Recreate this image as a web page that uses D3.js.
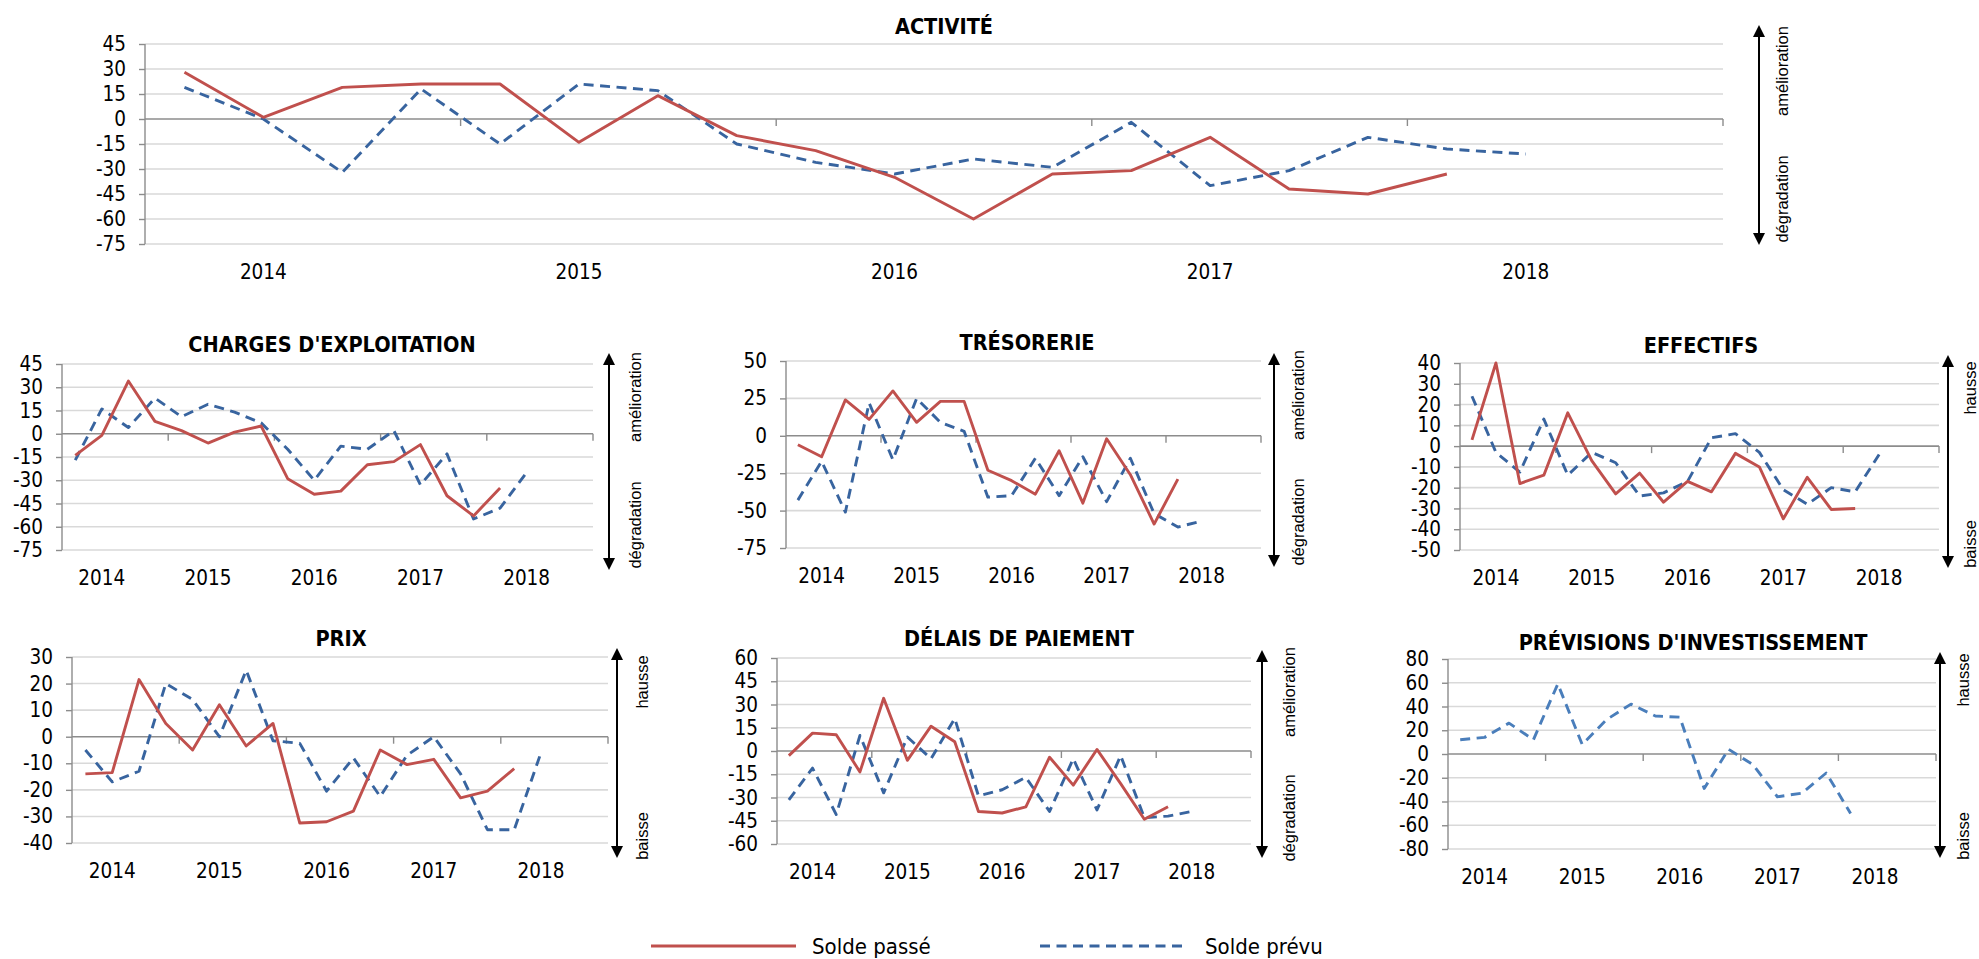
<!DOCTYPE html>
<html>
<head>
<meta charset="utf-8">
<script src="https://cdn.jsdelivr.net/npm/d3@7"></script>
<style>
  body { margin: 0; background: #fff; }
  svg { display: block; }
</style>
</head>
<body>
<svg id="chart" width="1979" height="959"></svg>
<script>
// Quarterly categories (Q4 2013 to Q3 2018); the year is shown under each first quarter
const quarters = ["2013T4","2014T1","2014T2","2014T3","2014T4","2015T1","2015T2","2015T3","2015T4",
  "2016T1","2016T2","2016T3","2016T4","2017T1","2017T2","2017T3","2017T4","2018T1","2018T2","2018T3"];
const yearLabels = ["2014","2015","2016","2017","2018"];
const yearQuarters = ["2014T1","2015T1","2016T1","2017T1","2018T1"];
const boundaryQuarters = ["2014T4","2015T4","2016T4","2017T4"];

// Balances of opinion: "Solde passé" (past) and "Solde prévu" (forecast)
const activitePasse = [28, 1, 19, 21, 21, -14, 14, -10, -19, -35, -60, -33, -31, -11, -42, -45, -33];
const activitePrevu = [19, 0, -32, 18, -15, 21, 17, -15, -26, -33, -24, -29, -2, -40, -31, -11, -18, -21];

const chargesPasse = [-14, -1, 34, 8, 2, -6, 1, 5, -29, -39, -37, -20, -18, -7, -40, -53, -35];
const chargesPrevu = [-17, 16, 4, 23, 11, 19, 14, 7, -10, -30, -8, -10, 2, -33, -13, -55, -48, -25];

const tresoreriePasse = [-6, -14, 24, 11, 30, 9, 23, 23, -23, -30, -39, -10, -45, -2, -26, -59, -29];
const tresoreriePrevu = [-43, -17, -51, 22, -16, 25, 9, 3, -41, -40, -15, -40, -14, -44, -15, -52, -61, -57];

const effectifsPasse = [3, 40, -18, -14, 16, -7, -23, -13, -27, -17, -22, -3.5, -10, -35, -15, -30.5, -30];
const effectifsPrevu = [24, -3, -12.5, 13, -14, -3, -8, -24, -22.5, -17, 4, 6, -3, -21, -28, -20, -22, -4];

const prixPasse = [-14, -13.5, 21.5, 5, -5, 12, -3.5, 5, -32.5, -32, -28, -5, -10.5, -8.5, -23, -20.5, -12];
const prixPrevu = [-5, -17, -13, 20, 14, 0, 25, -1.5, -2.5, -20.5, -8, -22.5, -7, 0, -14, -35, -35, -6];

const delaisPasse = [-3, 11.5, 10.5, -13.5, 34, -6, 16, 6, -39, -40, -36, -4, -22, 1, -21, -44, -36];
const delaisPrevu = [-31.5, -11, -41, 10, -27, 9, -5, 21, -29, -25, -17, -39, -5, -38, -3, -43, -42, -39];

const investissementPrevu = [12, 14, 26, 12, 59, 8, 29, 42, 32, 31, -29, 4, -9, -36, -33, -16, -50];

const seriesNames = ["Solde passé", "Solde prévu"];

const COLOR_PASSE = "#C0504D";
const COLOR_PREVU = "#38649F";

const panels = [
  { title: "ACTIVITÉ", passe: activitePasse, prevu: activitePrevu, domain: [-75, 45], step: 15,
    left: 145, right: 1723, top: 44, bottom: 244, titleX: 944, titleY: 34,
    arrowX: 1759, arrowTop: 25, arrowBottom: 245, up: "amélioration", down: "dégradation",
    sideX: 1782, upY: 71, downY: 199 },
  { title: "CHARGES D'EXPLOITATION", passe: chargesPasse, prevu: chargesPrevu, domain: [-75, 45], step: 15,
    left: 62, right: 593, top: 364, bottom: 550, titleX: 332, titleY: 352,
    arrowX: 609, arrowTop: 353, arrowBottom: 570, up: "amélioration", down: "dégradation",
    sideX: 635, upY: 397, downY: 525 },
  { title: "TRÉSORERIE", passe: tresoreriePasse, prevu: tresoreriePrevu, domain: [-75, 50], step: 25,
    left: 786, right: 1261, top: 361, bottom: 548, titleX: 1027, titleY: 350,
    arrowX: 1274, arrowTop: 353, arrowBottom: 567, up: "amélioration", down: "dégradation",
    sideX: 1298, upY: 395, downY: 522 },
  { title: "EFFECTIFS", passe: effectifsPasse, prevu: effectifsPrevu, domain: [-50, 40], step: 10,
    left: 1460, right: 1939, top: 363, bottom: 550, titleX: 1701, titleY: 353,
    arrowX: 1948, arrowTop: 355, arrowBottom: 568, up: "hausse", down: "baisse",
    sideX: 1970, upY: 388, downY: 544 },
  { title: "PRIX", passe: prixPasse, prevu: prixPrevu, domain: [-40, 30], step: 10,
    left: 72, right: 608, top: 657, bottom: 843, titleX: 341, titleY: 646,
    arrowX: 617, arrowTop: 648, arrowBottom: 858, up: "hausse", down: "baisse",
    sideX: 642, upY: 682, downY: 836 },
  { title: "DÉLAIS DE PAIEMENT", passe: delaisPasse, prevu: delaisPrevu, domain: [-60, 60], step: 15,
    left: 777, right: 1251, top: 658, bottom: 844, titleX: 1019, titleY: 646,
    arrowX: 1262, arrowTop: 650, arrowBottom: 858, up: "amélioration", down: "dégradation",
    sideX: 1289, upY: 692, downY: 818 },
  { title: "PRÉVISIONS D'INVESTISSEMENT", passe: [], prevu: investissementPrevu, domain: [-80, 80], step: 20,
    left: 1448, right: 1936, top: 659, bottom: 849, titleX: 1693, titleY: 650,
    arrowX: 1940, arrowTop: 652, arrowBottom: 858, up: "hausse", down: "baisse",
    sideX: 1963, upY: 680, downY: 836, prevuColor: "#4A7EBB" }
];

const TICK_FONT = "'DejaVu Sans Condensed', 'DejaVu Sans', sans-serif";
const SIDE_FONT = "'Liberation Sans', Arial, sans-serif";
const TICK_SIZE = 20.5;

const svg = d3.select("#chart");

const defs = svg.append("defs");
defs.append("marker")
  .attr("id", "arrowhead")
  .attr("viewBox", "0 0 10 10")
  .attr("refX", 5).attr("refY", 5)
  .attr("markerWidth", 12).attr("markerHeight", 12)
  .attr("markerUnits", "userSpaceOnUse")
  .attr("orient", "auto-start-reverse")
  .append("path")
  .attr("d", "M0,0 L10,5 L0,10 Z")
  .attr("fill", "#000");

function drawPanel(p) {
  const g = svg.append("g");
  const x = d3.scaleBand().domain(quarters).range([p.left, p.right]).paddingInner(0).paddingOuter(0);
  const y = d3.scaleLinear().domain(p.domain).range([p.bottom, p.top]);
  const ticks = d3.range(p.domain[0], p.domain[1] + p.step / 2, p.step);

  // horizontal gridlines
  g.append("g").selectAll("line").data(ticks.filter(t => t !== 0)).join("line")
    .attr("x1", p.left).attr("x2", p.right)
    .attr("y1", d => y(d)).attr("y2", d => y(d))
    .attr("stroke", "#D9D9D9").attr("stroke-width", 1.6);

  // vertical axis with tick labels
  const yAxis = d3.axisLeft(y).tickValues(ticks).tickSize(6).tickPadding(13).tickFormat(d3.format("d"));
  const ya = g.append("g").attr("transform", `translate(${p.left},0)`).call(yAxis);
  ya.select(".domain").attr("stroke", "#8C8C8C").attr("stroke-width", 1.4).attr("d", `M0,${p.top}V${p.bottom}`);
  ya.selectAll(".tick line").attr("stroke", "#8C8C8C").attr("stroke-width", 1.4);
  ya.selectAll(".tick text").attr("font-family", TICK_FONT).attr("font-size", TICK_SIZE).attr("fill", "#000")
    .text(d => d < 0 ? "-" + Math.abs(d) : d);

  // horizontal axis on zero, ticks at year boundaries
  const x0 = y(0);
  g.append("line").attr("x1", p.left).attr("x2", p.right).attr("y1", x0).attr("y2", x0)
    .attr("stroke", "#8C8C8C").attr("stroke-width", 1.6);
  const bounds = boundaryQuarters.map(q => x(q)).concat([p.right]);
  g.append("g").selectAll("line").data(bounds).join("line")
    .attr("x1", d => d).attr("x2", d => d).attr("y1", x0).attr("y2", x0 + 7)
    .attr("stroke", "#8C8C8C").attr("stroke-width", 1.4);

  // year labels under the plot
  g.append("g").selectAll("text").data(yearLabels).join("text")
    .attr("x", (d, i) => x(yearQuarters[i]) + x.bandwidth() / 2)
    .attr("y", p.bottom + 35)
    .attr("text-anchor", "middle")
    .attr("font-family", TICK_FONT).attr("font-size", TICK_SIZE).attr("fill", "#000")
    .text(d => d);

  // series lines
  const line = d3.line()
    .x((d, i) => x(quarters[i]) + x.bandwidth() / 2)
    .y(d => y(d));
  if (p.prevu.length) {
    g.append("path").datum(p.prevu).attr("d", line)
      .attr("fill", "none").attr("stroke", p.prevuColor || COLOR_PREVU)
      .attr("stroke-width", 2.9).attr("stroke-dasharray", "10,6.5").attr("stroke-linejoin", "round");
  }
  if (p.passe.length) {
    g.append("path").datum(p.passe).attr("d", line)
      .attr("fill", "none").attr("stroke", COLOR_PASSE)
      .attr("stroke-width", 2.9).attr("stroke-linejoin", "round");
  }

  // title
  g.append("text").attr("x", p.titleX).attr("y", p.titleY).attr("text-anchor", "middle")
    .attr("font-family", TICK_FONT).attr("font-weight", "bold").attr("font-size", 21.5).attr("fill", "#000")
    .text(p.title);

  // direction arrow with labels
  g.append("line").attr("x1", p.arrowX).attr("x2", p.arrowX)
    .attr("y1", p.arrowTop + 6).attr("y2", p.arrowBottom - 6)
    .attr("stroke", "#000").attr("stroke-width", 2)
    .attr("marker-start", "url(#arrowhead)").attr("marker-end", "url(#arrowhead)");
  [[p.up, p.upY], [p.down, p.downY]].forEach(([t, cy]) => {
    g.append("text")
      .attr("transform", `translate(${p.sideX},${cy}) rotate(-90)`)
      .attr("text-anchor", "middle").attr("dy", "0.35em")
      .attr("font-family", SIDE_FONT).attr("font-size", 16.5).attr("fill", "#000")
      .text(t);
  });
}

panels.forEach(drawPanel);

// legend
const legend = svg.append("g");
const legendItems = [
  { name: seriesNames[0], color: COLOR_PASSE, dash: null, x1: 651, x2: 796, tx: 812 },
  { name: seriesNames[1], color: COLOR_PREVU, dash: "10,6.5", x1: 1040, x2: 1182, tx: 1205 }
];
legendItems.forEach(it => {
  legend.append("line").attr("x1", it.x1).attr("x2", it.x2).attr("y1", 946).attr("y2", 946)
    .attr("stroke", it.color).attr("stroke-width", 2.9).attr("stroke-dasharray", it.dash);
  legend.append("text").attr("x", it.tx).attr("y", 946).attr("dy", "0.35em")
    .attr("font-family", TICK_FONT).attr("font-size", 22).attr("fill", "#000")
    .text(it.name);
});
</script>
</body>
</html>
